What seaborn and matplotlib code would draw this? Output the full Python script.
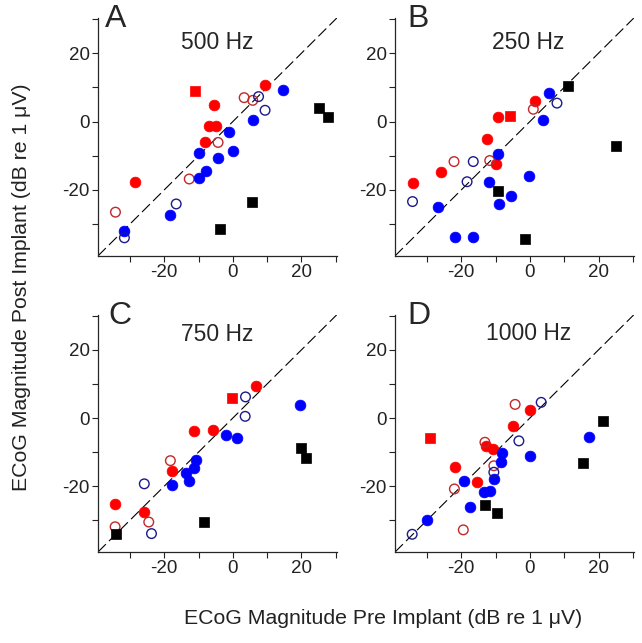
import numpy as np
import pandas as pd
import matplotlib
matplotlib.use('Agg')
import matplotlib.pyplot as plt
import seaborn as sns

# (pre, post) pairs, per panel and marker group
A_RED_FILL  = [(9.4, 10.6), (-5.6, 4.9), (-6.8, -1.3), (-4.9, -1.3), (-8.1, -6.1), (-28.6, -17.7)]
A_RED_OPEN  = [(-34.2, -26.5), (-12.7, -16.8), (-4.3, -6.1), (3.3, 7.0), (5.8, 6.2)]
A_BLUE_FILL = [(14.6, 9.2), (6.0, 0.5), (-1.1, -3.0), (0.0, -8.7), (-10.0, -9.3), (-4.2, -10.6),
               (-7.8, -14.5), (-9.8, -16.4), (-18.3, -27.3), (-31.6, -32.1)]
A_BLUE_OPEN = [(7.5, 7.3), (9.4, 3.3), (-16.5, -24.1), (-31.6, -34.0)]
A_RED_SQ    = [(-11.0, 8.8)]
A_BLACK_SQ  = [(25.1, 4.1), (27.8, 1.2), (5.6, -23.4), (-3.7, -31.4)]

B_RED_FILL  = [(1.5, 6.0), (-9.2, 1.2), (-12.4, -5.2), (-9.9, -12.5), (-26.0, -14.7), (-34.2, -18.1)]
B_RED_OPEN  = [(1.0, 3.6), (-22.1, -11.7), (-11.7, -11.4)]
B_BLUE_FILL = [(5.7, 8.3), (3.8, 0.5), (-9.4, -9.6), (-0.3, -15.8), (-12.0, -17.8), (-5.4, -21.7),
               (-8.9, -24.2), (-26.7, -24.9), (-21.9, -33.9), (-16.7, -33.9)]
B_BLUE_OPEN = [(7.9, 5.4), (-16.5, -11.7), (-18.3, -17.6), (-34.2, -23.4)]
B_RED_SQ    = [(-5.8, 1.5)]
B_BLACK_SQ  = [(11.2, 10.4), (25.0, -7.2), (-9.2, -20.3), (-1.3, -34.3)]

C_RED_FILL  = [(6.7, 9.5), (-5.7, -3.4), (-11.4, -3.9), (-17.6, -15.5), (-25.9, -27.6), (-34.4, -25.1)]
C_RED_OPEN  = [(-18.2, -12.5), (-24.5, -30.5), (-34.3, -31.9)]
C_BLUE_FILL = [(19.5, 3.9), (-2.0, -5.0), (1.1, -5.8), (-10.6, -12.3), (-11.4, -14.8), (-13.5, -16.2),
               (-12.9, -18.6), (-17.7, -19.6)]
C_BLUE_OPEN = [(3.7, 6.2), (3.6, 0.5), (-25.8, -19.3), (-23.7, -33.9)]
C_RED_SQ    = [(-0.1, 5.9)]
C_BLACK_SQ  = [(20.0, -8.7), (21.2, -11.7), (-8.3, -30.6), (-34.1, -34.0)]

D_RED_FILL  = [(0.0, 2.3), (-5.0, -2.3), (-12.7, -8.1), (-10.7, -9.1), (-21.8, -14.4), (-15.5, -18.8)]
D_RED_OPEN  = [(-4.3, 4.0), (-13.1, -7.1), (-10.5, -14.0), (-22.0, -20.8), (-19.4, -32.8)]
D_BLUE_FILL = [(17.2, -5.6), (-0.1, -11.0), (-8.1, -10.2), (-8.5, -13.0), (-10.5, -17.9), (-19.2, -18.5),
               (-13.4, -21.8), (-11.5, -21.3), (-17.5, -26.1), (-30.1, -30.0)]
D_BLUE_OPEN = [(3.3, 4.6), (-3.2, -6.7), (-10.5, -15.9), (-34.3, -34.1)]
D_RED_SQ    = [(-29.1, -5.9)]
D_BLACK_SQ  = [(21.4, -0.8), (15.4, -13.2), (-13.1, -25.5), (-9.7, -27.9)]

PANELS = ['A', 'B', 'C', 'D']
FREQS = ['500 Hz', '250 Hz', '750 Hz', '1000 Hz']

groups = {
    'A': [A_RED_FILL, A_RED_OPEN, A_BLUE_FILL, A_BLUE_OPEN, A_RED_SQ, A_BLACK_SQ],
    'B': [B_RED_FILL, B_RED_OPEN, B_BLUE_FILL, B_BLUE_OPEN, B_RED_SQ, B_BLACK_SQ],
    'C': [C_RED_FILL, C_RED_OPEN, C_BLUE_FILL, C_BLUE_OPEN, C_RED_SQ, C_BLACK_SQ],
    'D': [D_RED_FILL, D_RED_OPEN, D_BLUE_FILL, D_BLUE_OPEN, D_RED_SQ, D_BLACK_SQ],
}
GROUP_NAMES = ['red_fill', 'red_open', 'blue_fill', 'blue_open', 'red_sq', 'black_sq']

rows = []
for p in PANELS:
    for name, pts in zip(GROUP_NAMES, groups[p]):
        for x, y in pts:
            rows.append({'panel': p, 'group': name, 'pre': x, 'post': y})
df = pd.DataFrame(rows)

styles = {
    'red_fill':  dict(marker='o', s=60, color='#ff0000', edgecolor='#ff0000', linewidth=0.5),
    'blue_fill': dict(marker='o', s=60, color='#0000ff', edgecolor='#0000ff', linewidth=0.5),
    'red_open':  dict(marker='o', s=48, facecolors='none', edgecolor='#c0282a', linewidth=1.0),
    'blue_open': dict(marker='o', s=48, facecolors='none', edgecolor='#1a1a8c', linewidth=1.0),
    'red_sq':    dict(marker='s', s=48, color='#ff0000', edgecolor='#ff0000', linewidth=0.5),
    'black_sq':  dict(marker='s', s=48, color='black', edgecolor='black', linewidth=0.5),
}

sns.set_style('ticks')
plt.rcParams['font.family'] = ['Liberation Sans', 'DejaVu Sans']

fig = plt.figure(figsize=(6.42, 6.43), dpi=100)
positions = {
    'A': [0.1526, 0.602, 0.372, 0.370],
    'B': [0.6153, 0.602, 0.372, 0.370],
    'C': [0.1526, 0.1415, 0.372, 0.369],
    'D': [0.6153, 0.1415, 0.372, 0.369],
}
freq_pos = {'A': (0.50, 0.895), 'B': (0.556, 0.895), 'C': (0.50, 0.915), 'D': (0.56, 0.92)}
letter_x = {'A': 0.03, 'B': 0.05, 'C': 0.045, 'D': 0.05}
lo, hi = -39.3, 30.3

for p, f in zip(PANELS, FREQS):
    ax = fig.add_axes(positions[p])
    ax.plot([lo, hi], [lo, hi], color='black', lw=0.8, dashes=(10, 4), zorder=1)
    sub = df[df.panel == p]
    for name in GROUP_NAMES:
        g = sub[sub.group == name]
        sns.scatterplot(data=g, x='pre', y='post', ax=ax, legend=False, zorder=3, **styles[name])
    ax.set_xlim(lo, hi)
    ax.set_ylim(lo, hi)
    ticks = np.arange(-30, 31, 10)
    ax.set_xticks(ticks)
    ax.set_yticks(ticks)
    lbls = ['' if t not in (-20, 0, 20) else str(t) for t in ticks]
    ax.set_xticklabels(lbls)
    ax.set_yticklabels(lbls)
    ax.tick_params(direction='out', length=4, width=0.8, labelsize=13.5, colors='#222222', pad=2)
    ax.set_xlabel('')
    ax.set_ylabel('')
    sns.despine(ax=ax)
    for s in ['left', 'bottom']:
        ax.spines[s].set_linewidth(0.9)
    ax.text(letter_x[p], 1.06, p, transform=ax.transAxes, fontsize=23, va='top', ha='left')
    ax.text(freq_pos[p][0], freq_pos[p][1], f, transform=ax.transAxes, fontsize=16.5,
            va='center', ha='center')

fig.text(0.033, 0.553, 'ECoG Magnitude Post Implant (dB re 1 \u03bcV)', rotation=90,
         fontsize=15.3, va='center', ha='center', color='#222222')
fig.text(0.597, 0.038, 'ECoG Magnitude Pre Implant (dB re 1 \u03bcV)',
         fontsize=15.3, va='center', ha='center', color='#222222')

plt.savefig('out.png', dpi=100)
